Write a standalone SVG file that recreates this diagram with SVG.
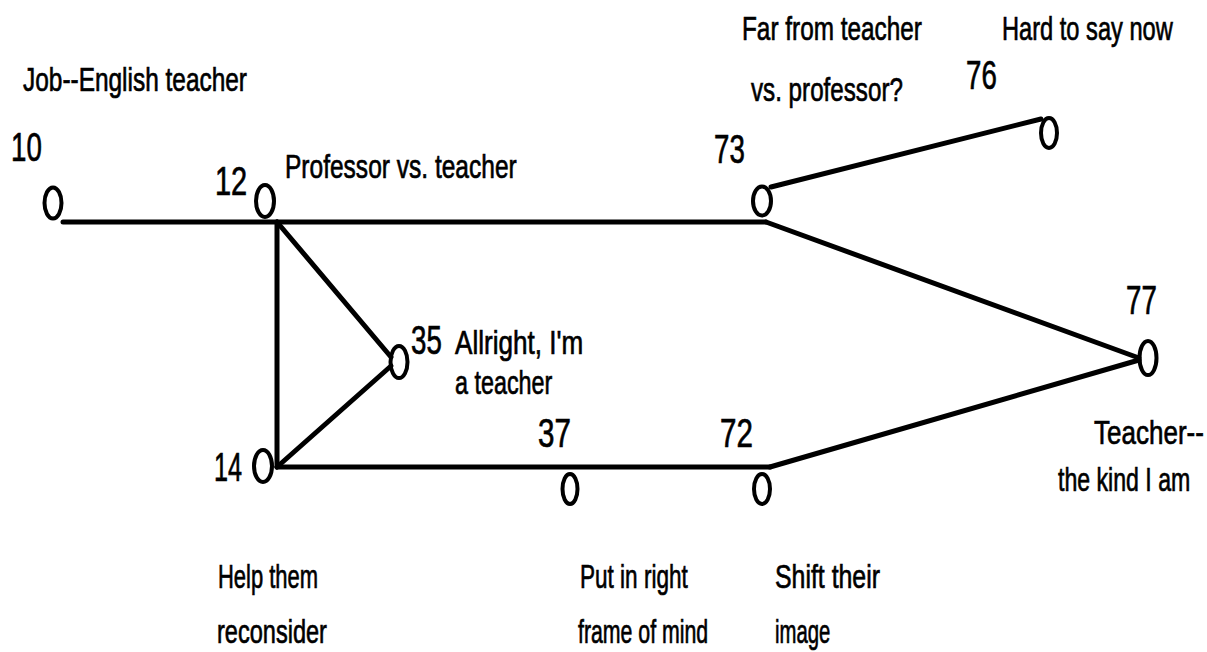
<svg xmlns="http://www.w3.org/2000/svg" width="1207" height="652" viewBox="0 0 1207 652">
<style>
.t{font-family:"Liberation Sans",Arial,sans-serif;font-size:34px;fill:#000;stroke:#000;stroke-width:0.7}
.n{font-family:"Liberation Sans",Arial,sans-serif;font-size:40px;fill:#000;stroke:#000;stroke-width:0.7}
.nd{fill:none;stroke:#000;stroke-width:4}
.ln{stroke:#000;stroke-width:5;fill:none;stroke-linecap:round}
</style>
<rect width="1207" height="652" fill="#fff"/>
<g id="connectors">
<line class="ln" x1="63" y1="222" x2="766" y2="222"/>
<line class="ln" x1="277" y1="222" x2="277" y2="467"/>
<line class="ln" x1="277" y1="222" x2="391" y2="357"/>
<line class="ln" x1="277" y1="467" x2="391" y2="366"/>
<line class="ln" x1="277" y1="467" x2="770" y2="467"/>
<line class="ln" x1="771" y1="187" x2="1041" y2="119"/>
<line class="ln" x1="766" y1="222" x2="1139" y2="358"/>
<line class="ln" x1="770" y1="467" x2="1139" y2="360"/>
</g>
<g id="title"><text class="t" transform="translate(23,91) scale(0.7,1)" textLength="320" lengthAdjust="spacingAndGlyphs">Job--English teacher</text></g>
<g id="node10">
<ellipse class="nd" cx="53" cy="203" rx="8.5" ry="15.5"/>
<text class="n" transform="translate(11,161) scale(0.7,1)" textLength="44" lengthAdjust="spacingAndGlyphs">10</text>
</g>
<g id="node12">
<ellipse class="nd" cx="265" cy="201" rx="9" ry="16"/>
<text class="n" transform="translate(215,195) scale(0.7,1)" textLength="46" lengthAdjust="spacingAndGlyphs">12</text>
<text class="t" transform="translate(285,178) scale(0.7,1)" textLength="331" lengthAdjust="spacingAndGlyphs">Professor vs. teacher</text>
</g>
<g id="node73">
<ellipse class="nd" cx="762" cy="201" rx="9" ry="14.5"/>
<text class="n" transform="translate(714,163) scale(0.7,1)" textLength="44" lengthAdjust="spacingAndGlyphs">73</text>
<text class="t" transform="translate(742,40) scale(0.7,1)" textLength="257" lengthAdjust="spacingAndGlyphs">Far from teacher</text>
<text class="t" transform="translate(751,101) scale(0.7,1)" textLength="217" lengthAdjust="spacingAndGlyphs">vs. professor?</text>
</g>
<g id="node76">
<ellipse class="nd" cx="1049" cy="133" rx="8" ry="15"/>
<text class="n" transform="translate(966,89) scale(0.7,1)" textLength="44" lengthAdjust="spacingAndGlyphs">76</text>
<text class="t" transform="translate(1002,40) scale(0.7,1)" textLength="244" lengthAdjust="spacingAndGlyphs">Hard to say now</text>
</g>
<g id="node77">
<ellipse class="nd" cx="1148" cy="358" rx="8.5" ry="17"/>
<text class="n" transform="translate(1126,314) scale(0.7,1)" textLength="44" lengthAdjust="spacingAndGlyphs">77</text>
<text class="t" transform="translate(1094,444) scale(0.7,1)" textLength="157" lengthAdjust="spacingAndGlyphs">Teacher--</text>
<text class="t" transform="translate(1058,491) scale(0.7,1)" textLength="189" lengthAdjust="spacingAndGlyphs">the kind I am</text>
</g>
<g id="node35">
<ellipse class="nd" cx="399" cy="362" rx="8.5" ry="16"/>
<text class="n" transform="translate(411,354) scale(0.7,1)" textLength="44" lengthAdjust="spacingAndGlyphs">35</text>
<text class="t" transform="translate(455,354) scale(0.7,1)" textLength="183" lengthAdjust="spacingAndGlyphs">Allright, I'm</text>
<text class="t" transform="translate(455,394) scale(0.7,1)" textLength="139" lengthAdjust="spacingAndGlyphs">a teacher</text>
</g>
<g id="node14">
<ellipse class="nd" cx="263" cy="466" rx="9" ry="16"/>
<text class="n" transform="translate(214,481) scale(0.7,1)" textLength="40" lengthAdjust="spacingAndGlyphs">14</text>
<text class="t" transform="translate(218,588) scale(0.7,1)" textLength="143" lengthAdjust="spacingAndGlyphs">Help them</text>
<text class="t" transform="translate(217,643) scale(0.7,1)" textLength="157" lengthAdjust="spacingAndGlyphs">reconsider</text>
</g>
<g id="node37">
<ellipse class="nd" cx="570" cy="489" rx="7.5" ry="15"/>
<text class="n" transform="translate(538,447) scale(0.7,1)" textLength="47" lengthAdjust="spacingAndGlyphs">37</text>
<text class="t" transform="translate(580,588) scale(0.7,1)" textLength="154" lengthAdjust="spacingAndGlyphs">Put in right</text>
<text class="t" transform="translate(578,643) scale(0.7,1)" textLength="186" lengthAdjust="spacingAndGlyphs">frame of mind</text>
</g>
<g id="node72">
<ellipse class="nd" cx="762" cy="489" rx="8" ry="15"/>
<text class="n" transform="translate(720,447) scale(0.7,1)" textLength="47" lengthAdjust="spacingAndGlyphs">72</text>
<text class="t" transform="translate(775,588) scale(0.7,1)" textLength="150" lengthAdjust="spacingAndGlyphs">Shift their</text>
<text class="t" transform="translate(775,643) scale(0.7,1)" textLength="79" lengthAdjust="spacingAndGlyphs">image</text>
</g>
</svg>
